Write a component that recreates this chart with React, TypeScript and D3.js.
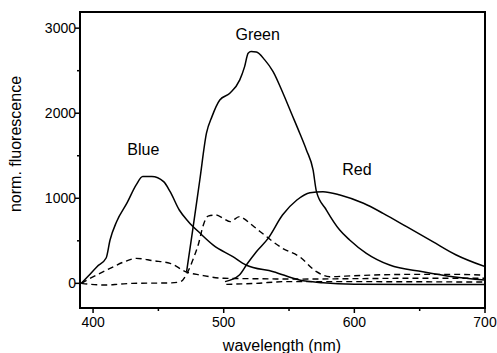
import * as d3 from "d3";

// wavelength (nm) / fluorescence pairs
const blueWl = [391, 396, 403, 410, 413, 418, 426, 433, 438, 445, 454, 459, 466, 473, 482, 492, 507, 517, 538, 558, 576, 600, 650, 700];
const blueVal = [0, 80, 196, 298, 510, 725, 945, 1157, 1255, 1255, 1195, 1078, 862, 725, 588, 450, 313, 215, 137, 39, 7, -10, -15, -15];

const greenWl = [471.6, 476, 481.7, 486.8, 491, 497, 504.7, 512.3, 516, 518.7, 521, 525, 531.4, 537.8, 545.4, 551.8, 558.2, 563.3, 568.4, 571, 578.6, 588.8, 596.4, 609.2, 627, 652.4, 675.4, 700];
const greenVal = [137, 600, 1215, 1765, 1960, 2156, 2235, 2392, 2548, 2705, 2725, 2720, 2627, 2490, 2235, 2000, 1765, 1568, 1333, 1078, 862, 627, 510, 353, 215, 137, 78, 39];

const redWl = [501, 512, 518, 525, 534, 545, 556, 566, 576, 589, 607, 622, 640, 660, 678, 700];
const redVal = [20, 98, 230, 372, 529, 803, 980, 1066, 1078, 1039, 941, 823, 666, 490, 333, 196];

// dashed curves
const blueDashWl = [391, 398, 413, 425, 433, 446, 459, 472, 482, 500, 520, 560, 600, 650, 700];
const blueDashVal = [0, 60, 176, 260, 294, 266, 235, 130, 98, 59, 55, 50, 55, 60, 60];

const greenDashWl = [391, 397, 410, 420, 430, 460, 467, 472, 477, 481, 484, 488, 494, 500, 505, 512, 516, 520, 528, 545, 558, 571, 581, 600, 640, 680, 700];
const greenDashVal = [0, -10, -20, -10, 0, 5, 20, 120, 300, 480, 666, 790, 803, 760, 725, 784, 755, 706, 607, 412, 313, 137, 78, 90, 105, 105, 95];

const redDashWl = [502, 525, 547, 600, 650, 700];
const redDashVal = [-12, 0, 20, 20, 18, 15];

const xMajor = [400, 500, 600, 700];
const xMinor = [450, 550, 650];
const yMajor = [0, 1000, 2000, 3000];
const yMinor = [500, 1500, 2500];

const labels = [
  { text: "Blue", wl: 438.5, val: 1510 },
  { text: "Green", wl: 526, val: 2860 },
  { text: "Red", wl: 602, val: 1270 },
];

export default function App() {
  const width = 497;
  const height = 353;
  const margin = { top: 12, right: 12, bottom: 45, left: 80 };

  const x = d3.scaleLinear().domain([390, 700]).range([margin.left, width - margin.right]);
  const y = d3.scaleLinear().domain([-290, 3190]).range([height - margin.bottom, margin.top]);

  const line = d3
    .line<[number, number]>()
    .x(d => x(d[0]))
    .y(d => y(d[1]))
    .curve(d3.curveMonotoneX);

  const zip = (a: number[], b: number[]) => a.map((v, i) => [v, b[i]] as [number, number]);

  const solid = [zip(blueWl, blueVal), zip(greenWl, greenVal), zip(redWl, redVal)];
  const dashed = [zip(blueDashWl, blueDashVal), zip(greenDashWl, greenDashVal), zip(redDashWl, redDashVal)];

  const font = "Arial, 'Liberation Sans', sans-serif";
  const x0 = margin.left;
  const y0 = height - margin.bottom;

  return (
    <svg
      width={width}
      height={height}
      style={{ position: "absolute", left: 0, top: 0, background: "#fff" }}
      fontFamily={font}
    >
      <defs>
        <clipPath id="plot">
          <rect x={x0} y={margin.top} width={x(700) - x0} height={y0 - margin.top} />
        </clipPath>
      </defs>

      <g clipPath="url(#plot)" fill="none" stroke="#000">
        {dashed.map((d, i) => (
          <path key={"d" + i} d={line(d) || ""} strokeWidth={1.4} strokeDasharray="6,4" />
        ))}
        {solid.map((d, i) => (
          <path key={"s" + i} d={line(d) || ""} strokeWidth={1.5} />
        ))}
      </g>

      {/* frame */}
      <rect
        x={x0}
        y={margin.top}
        width={x(700) - x0}
        height={y0 - margin.top}
        fill="none"
        stroke="#000"
        strokeWidth={2}
      />

      {/* y axis */}
      {yMajor.map(t => (
        <g key={"y" + t}>
          <line x1={x0 - 5} x2={x0} y1={y(t)} y2={y(t)} stroke="#000" strokeWidth={1.5} />
          <text x={x0 - 4} y={y(t) + 5} textAnchor="end" fontSize={14}>
            {t}
          </text>
        </g>
      ))}
      {yMinor.map(t => (
        <line key={"ym" + t} x1={x0 - 3} x2={x0} y1={y(t)} y2={y(t)} stroke="#000" strokeWidth={1.5} />
      ))}

      {/* x axis */}
      {xMajor.map(t => (
        <g key={"x" + t}>
          <line x1={x(t)} x2={x(t)} y1={y0} y2={y0 + 5} stroke="#000" strokeWidth={1.5} />
          <text x={x(t)} y={y0 + 19} textAnchor="middle" fontSize={14}>
            {t}
          </text>
        </g>
      ))}
      {xMinor.map(t => (
        <line key={"xm" + t} x1={x(t)} x2={x(t)} y1={y0} y2={y0 + 3} stroke="#000" strokeWidth={1.5} />
      ))}

      <text x={282} y={351} textAnchor="middle" fontSize={16}>
        wavelength (nm)
      </text>
      <text transform="translate(21,144) rotate(-90)" textAnchor="middle" fontSize={16}>
        norm. fluorescence
      </text>

      {labels.map(l => (
        <text key={l.text} x={x(l.wl)} y={y(l.val)} textAnchor="middle" fontSize={16}>
          {l.text}
        </text>
      ))}
    </svg>
  );
}
